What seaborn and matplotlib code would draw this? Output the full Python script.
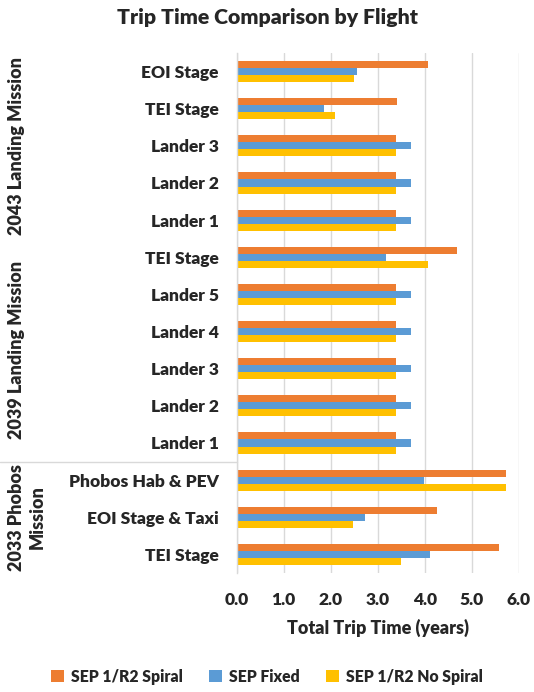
import matplotlib
matplotlib.use("Agg")
import matplotlib.pyplot as plt
import seaborn as sns
import pandas as pd
from matplotlib.patches import Patch

# Flight list, top to bottom
flights = [
    "EOI Stage", "TEI Stage", "Lander 3", "Lander 2", "Lander 1",
    "TEI Stage", "Lander 5", "Lander 4", "Lander 3", "Lander 2", "Lander 1",
    "Phobos Hab & PEV", "EOI Stage & Taxi", "TEI Stage",
]
series = ["SEP 1/R2 Spiral", "SEP Fixed", "SEP 1/R2 No Spiral"]

spiral = [4.08, 3.42, 3.38, 3.38, 3.38, 4.69, 3.38, 3.38, 3.38, 3.38, 3.38, 5.73, 4.26, 5.59]
fixed = [2.55, 1.86, 3.70, 3.70, 3.70, 3.18, 3.70, 3.70, 3.70, 3.70, 3.70, 3.99, 2.73, 4.11]
no_spiral = [2.50, 2.10, 3.38, 3.38, 3.38, 4.08, 3.38, 3.38, 3.38, 3.38, 3.38, 5.73, 2.47, 3.50]

missions = ["2043 Landing Mission", "2039 Landing Mission", "2033 Phobos\nMission"]
mission_rows = [(0, 4), (5, 10), (11, 13)]
mission_x = [-0.78, -0.78, -0.744]

colors = ["#ED7D31", "#5B9BD5", "#FFC000"]

keys = [f"row{i}" for i in range(len(flights))]
rows = []
for name, vals in zip(series, [spiral, fixed, no_spiral]):
    for k, v in zip(keys, vals):
        rows.append({"flight": k, "series": name, "years": v})
df = pd.DataFrame(rows)

sns.set_theme(style="white")
plt.rcParams["font.family"] = ["Lato", "DejaVu Sans"]
W = "heavy"

fig = plt.figure(figsize=(5.34, 6.92), dpi=100)
ax = fig.add_axes([0.4433, 0.172, 0.528, 0.7514])

sns.barplot(data=df, x="years", y="flight", hue="series", order=keys,
            hue_order=series, palette=colors, orient="h", width=0.57,
            saturation=1, linewidth=0, ax=ax, legend=False)

ax.set_xlim(0, 6)
ax.set_ylim(len(flights) - 0.5, -0.5)
ax.set_xticks([0, 1, 2, 3, 4, 5, 6])
ax.set_xticklabels([f"{t:.1f}" for t in range(7)], fontsize=12.5, fontweight=W)
ax.set_yticks(range(len(flights)))
ax.set_yticklabels(flights, fontsize=12.5, fontweight=W)
ax.tick_params(axis="y", length=0, pad=13)
ax.tick_params(axis="x", length=0, pad=13.5)
ax.set_ylabel("")
ax.set_xlabel("Total Trip Time (years)", fontsize=13, fontweight=W, labelpad=8)

ax.grid(axis="x", color="#D9D9D9", lw=1)
ax.set_axisbelow(True)
for s in ["top", "right", "bottom"]:
    ax.spines[s].set_visible(False)
ax.spines["left"].set_color("#D9D9D9")
ax.spines["left"].set_linewidth(1)

# Mission group labels at the left edge
tr = ax.get_yaxis_transform()
for name, (a, b), xp in zip(missions, mission_rows, mission_x):
    ax.text(xp, (a + b) / 2, name, transform=tr, rotation=90,
            ha="center", va="center", fontsize=13, fontweight=W,
            linespacing=1.25, multialignment="center", clip_on=False)
ax.plot([-0.84, 0], [10.5, 10.5], transform=tr, color="#D9D9D9", lw=1,
        clip_on=False)

fig.suptitle("Trip Time Comparison by Flight", x=0.5, y=0.988,
             fontsize=15.3, fontweight=W)

handles = [Patch(facecolor=c, edgecolor="none") for c in colors]
fig.legend(handles, series, loc="center", bbox_to_anchor=(0.5, 0.022), ncol=3,
           frameon=False, prop={"size": 11.3, "weight": W},
           handlelength=0.8, handleheight=0.8,
           handletextpad=0.45, columnspacing=1.7)

fig.savefig("out.png", dpi=100)
